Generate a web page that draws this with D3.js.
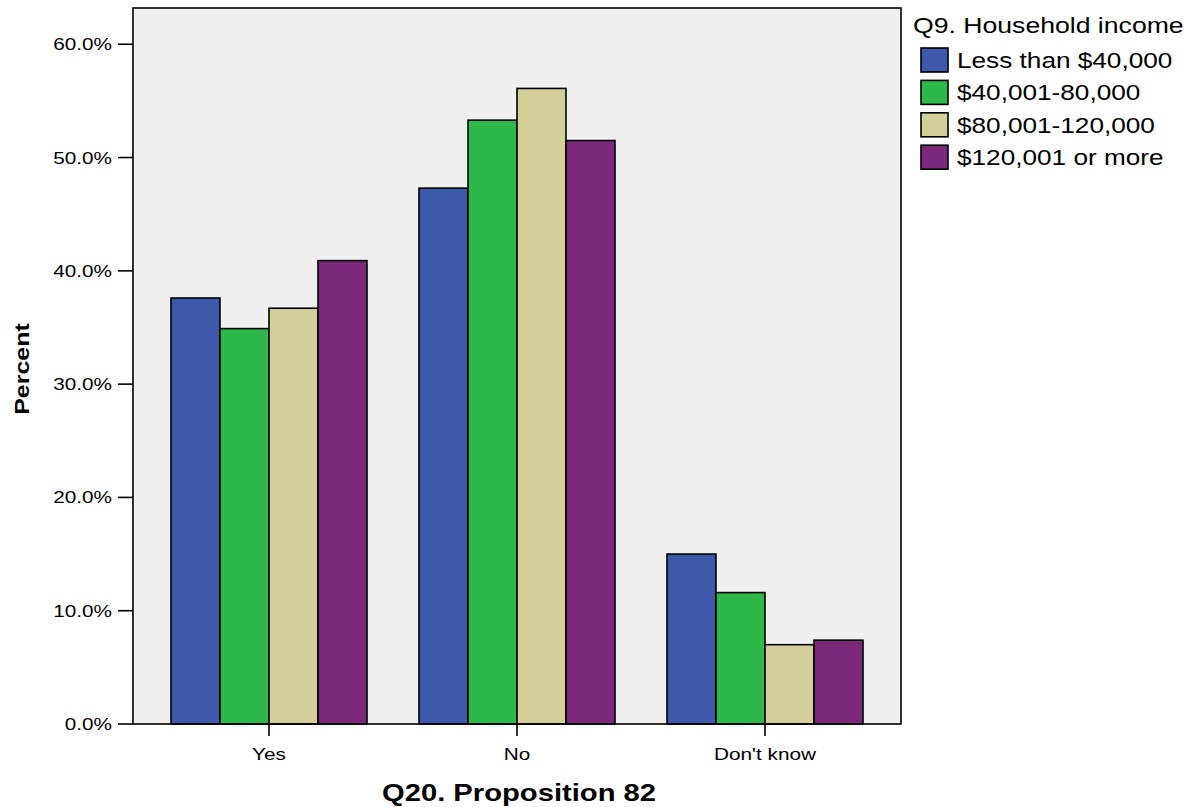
<!DOCTYPE html>
<html>
<head>
<meta charset="utf-8">
<script src="https://cdn.jsdelivr.net/npm/d3@7"></script>
<style>
  html, body { margin: 0; padding: 0; background: #ffffff; }
  svg { display: block; }
  text { font-family: "Liberation Sans", Arial, sans-serif; fill: #000; }
</style>
</head>
<body>
<svg id="chart" width="1188" height="807"></svg>
<script>
// ---- Data ----
const categories = ["Yes", "No", "Don't know"];
const seriesNames = ["Less than $40,000", "$40,001-80,000", "$80,001-120,000", "$120,001 or more"];
const lessThan40k   = [37.6, 47.3, 15.0];
const from40to80k   = [34.9, 53.3, 11.6];
const from80to120k  = [36.7, 56.1, 7.0];
const over120k      = [40.9, 51.5, 7.4];
const seriesValues = [lessThan40k, from40to80k, from80to120k, over120k];
const yTicks = [0, 10, 20, 30, 40, 50, 60];
const yTickLabels = ["0.0%", "10.0%", "20.0%", "30.0%", "40.0%", "50.0%", "60.0%"];
const colors = ["#3e58ac", "#2fb84a", "#d3cf99", "#7b287a"];
const legendTitle = "Q9. Household income";
const xTitle = "Q20. Proposition 82";
const yTitle = "Percent";

// ---- Layout ----
const svg = d3.select("#chart");
const plot = { left: 133, right: 901, top: 8, bottom: 724 };

const y = d3.scaleLinear().domain([0, 63.2]).range([plot.bottom, plot.top]);
const x0 = d3.scaleBand().domain(categories).range([plot.left + 12, plot.right - 12]).padding(0);
const groupW = 196;
const x1 = d3.scaleBand().domain(d3.range(seriesNames.length)).range([0, groupW]).padding(0);

function stretchedText(g, str, tx, ty, sx, opts) {
  const t = g.append("text")
    .attr("transform", `translate(${tx},${ty}) ${opts.rotate ? "rotate(-90) " : ""}scale(${sx},1)`)
    .attr("font-size", opts.size)
    .attr("text-anchor", opts.anchor || "start")
    .attr("font-weight", opts.bold ? "bold" : "normal")
    .text(str);
  if (opts.dy) t.attr("dy", opts.dy);
  return t;
}

// Plot background
svg.append("rect")
  .attr("x", plot.left).attr("y", plot.top)
  .attr("width", plot.right - plot.left).attr("height", plot.bottom - plot.top)
  .attr("fill", "#f0f0f0");

// Bars
const groups = svg.append("g").selectAll("g")
  .data(categories).join("g")
  .attr("transform", d => `translate(${x0(d) + (x0.bandwidth() - groupW) / 2},0)`);

groups.selectAll("rect")
  .data((c, ci) => seriesValues.map((vals, si) => ({ si, v: vals[ci] })))
  .join("rect")
  .attr("x", d => x1(d.si))
  .attr("width", x1.bandwidth())
  .attr("y", d => y(d.v))
  .attr("height", d => y(0) - y(d.v))
  .attr("fill", d => colors[d.si])
  .attr("stroke", "#000")
  .attr("stroke-width", 1.6);

// Frame
svg.append("rect")
  .attr("x", plot.left).attr("y", plot.top)
  .attr("width", plot.right - plot.left).attr("height", plot.bottom - plot.top)
  .attr("fill", "none").attr("stroke", "#000").attr("stroke-width", 1.6);

// Y axis
const yAxis = svg.append("g");
yTicks.forEach((t, i) => {
  yAxis.append("line")
    .attr("x1", plot.left - 15).attr("x2", plot.left)
    .attr("y1", y(t)).attr("y2", y(t))
    .attr("stroke", "#000").attr("stroke-width", 1.6);
  stretchedText(yAxis, yTickLabels[i], plot.left - 21, y(t) + 6, 1.22, { size: 17, anchor: "end" });
});

// X axis ticks and labels
const xAxis = svg.append("g");
categories.forEach(c => {
  const cx = x0(c) + x0.bandwidth() / 2;
  xAxis.append("line")
    .attr("x1", cx).attr("x2", cx)
    .attr("y1", plot.bottom).attr("y2", plot.bottom + 12)
    .attr("stroke", "#000").attr("stroke-width", 1.6);
  stretchedText(xAxis, c, cx, plot.bottom + 36, 1.3, { size: 16, anchor: "middle" });
});

// Axis titles
stretchedText(svg, xTitle, (plot.left + plot.right) / 2 + 2, 801, 1.27, { size: 23, anchor: "middle", bold: true });
stretchedText(svg, yTitle, 29, 369, 1.25, { size: 20, anchor: "middle", bold: true, rotate: true });

// Legend
const legend = svg.append("g");
stretchedText(legend, legendTitle, 913, 33, 1.21, { size: 22 });
seriesNames.forEach((name, i) => {
  const ly = 48 + i * 32.4;
  legend.append("rect")
    .attr("x", 921).attr("y", ly)
    .attr("width", 27).attr("height", 24)
    .attr("fill", colors[i]).attr("stroke", "#000").attr("stroke-width", 1.6);
  stretchedText(legend, name, 957, ly + 20, 1.19, { size: 22 });
});
</script>
</body>
</html>
